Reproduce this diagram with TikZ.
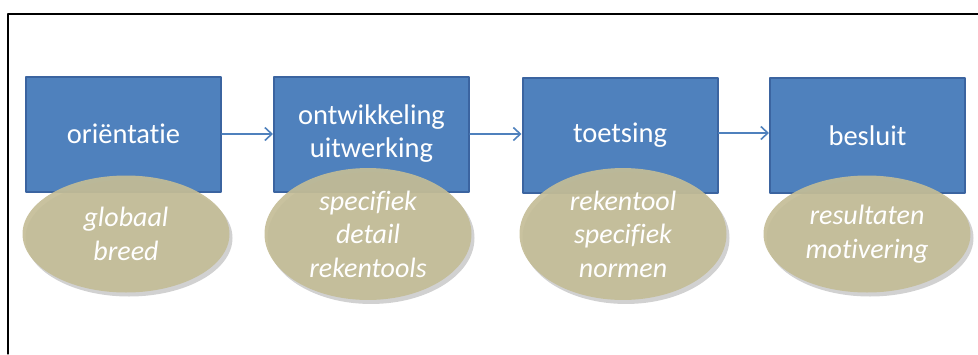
\documentclass[tikz,border=0pt]{standalone}
\usepackage{fontspec}
\setmainfont{Carlito}[Ligatures={NoCommon}]
\usetikzlibrary{arrows.meta,shapes.geometric,shadows}

\definecolor{boxblue}{HTML}{4F81BD}
\definecolor{boxedge}{HTML}{3B64A0}
\definecolor{ovaltan}{HTML}{C4BD97}

\tikzset{
  phase/.style={draw=boxedge, line width=2pt, fill=boxblue, text=white,
    minimum width=195pt, minimum height=115pt, align=center,
    font=\fontsize{28.5}{33}\selectfont},
  oval/.style={ellipse, fill=ovaltan, fill opacity=0.92, text opacity=1,
    text=white, minimum width=207pt, minimum height=117pt, align=center,
    font=\fontsize{28}{33.5}\selectfont\itshape,
    drop shadow={shadow xshift=3pt, shadow yshift=-4pt, opacity=0.3, fill=black!60}},
  flow/.style={-{Straight Barb[length=7pt,width=13pt]}, draw=boxblue, line width=1.6pt}
}

\begin{document}
\begin{tikzpicture}[x=1pt, y=-1pt, line cap=round, line join=round]

% ----------------------------
% CANVAS
% ----------------------------
\useasboundingbox (0,0) rectangle (978,354);
\draw[line width=1.3pt] (8,354) -- (8,14) -- (978,14);

% ----------------------------
% PHASES
% ----------------------------
\node[phase] (orient) at (123.5,134) {oriëntatie};
\node[phase] (ontw)   at (371.5,134) {ontwikkeling\\uitwerking};
\node[phase] (toets)  at (620,135.5) {toetsing};
\node[phase] (besl)   at (867.5,135.5) {besluit};

% ----------------------------
% ARROWS
% ----------------------------
\draw[flow] (orient.east) -- (ontw.west |- orient.east);
\draw[flow] (ontw.east) -- (toets.west |- ontw.east);
\draw[flow] (toets.east |- 0,133) -- (besl.west |- 0,133);

% ----------------------------
% OVALS (on top of the boxes)
% ----------------------------
\node[oval] (orientdet) at (126,234) {globaal\\breed};
\node[oval] (ontwdet)   at (368,234) {specifiek\\detail\\rekentools};
\node[oval] (toetsdet)  at (623,234) {rekentool\\specifiek\\normen};
\node[oval] (besldet)   at (867,234) {resultaten\\motivering};

\end{tikzpicture}
\end{document}
